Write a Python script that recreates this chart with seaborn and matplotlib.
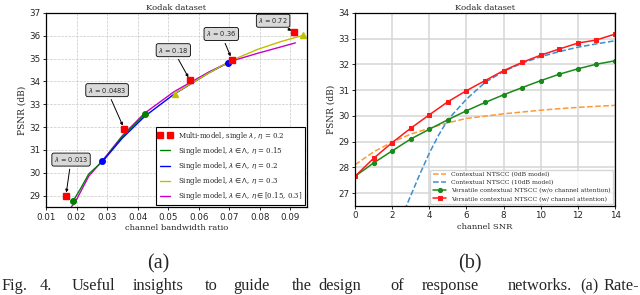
import numpy as np
import pandas as pd
import matplotlib
matplotlib.use("Agg")
import matplotlib.pyplot as plt
from matplotlib.lines import Line2D
import seaborn as sns

# ---- (a) rate-distortion data ----
multi_ratio = [0.0165, 0.0356, 0.0572, 0.0709, 0.0914]
multi_psnr = [28.99, 31.93, 34.05, 34.96, 36.15]
multi_lambda = ["0.013", "0.0483", "0.18", "0.36", "0.72"]
box_ratio = [0.0182, 0.0300, 0.0517, 0.0674, 0.0844]
box_psnr = [30.58, 33.62, 35.37, 36.08, 36.66]

eta015_ratio = [0.0188, 0.0215, 0.024, 0.0285, 0.035, 0.0424]
eta015_psnr = [28.75, 29.35, 29.95, 30.50, 31.60, 32.56]
eta02_ratio = [0.0285, 0.035, 0.0424, 0.052, 0.0634, 0.0697]
eta02_psnr = [30.50, 31.52, 32.48, 33.45, 34.38, 34.83]
eta03_ratio = [0.0521, 0.058, 0.0634, 0.0709, 0.0792, 0.087, 0.0942]
eta03_psnr = [33.47, 33.95, 34.38, 34.93, 35.40, 35.75, 36.02]
etarange_ratio = [0.0180, 0.0198, 0.024, 0.0285, 0.0351, 0.0421, 0.0519, 0.0634, 0.0709, 0.0792, 0.0917]
etarange_psnr = [28.45, 28.78, 29.85, 30.54, 31.64, 32.59, 33.55, 34.42, 34.90, 35.23, 35.69]

# ---- (b) SNR adaptation data ----
snr = list(range(15))
psnr_ca = [27.65, 28.35, 28.96, 29.52, 30.04, 30.55, 30.98, 31.37, 31.76, 32.08, 32.36, 32.60, 32.83, 32.95, 33.18]
psnr_noca = [27.65, 28.17, 28.64, 29.10, 29.48, 29.85, 30.20, 30.52, 30.82, 31.10, 31.37, 31.62, 31.83, 32.01, 32.14]
snr_0db = [0, 1, 2, 3, 4, 5, 6, 7, 8, 9, 10, 11, 12, 13, 14]
psnr_0db = [28.10, 28.60, 28.98, 29.29, 29.52, 29.73, 29.90, 29.99, 30.08, 30.15, 30.22, 30.28, 30.33, 30.37, 30.41]
snr_10db = [2.5, 3, 3.5, 4, 4.5, 5, 6, 7, 8, 9, 10, 11, 12, 13, 14]
psnr_10db = [26.05, 26.90, 27.75, 28.55, 29.25, 29.85, 30.65, 31.30, 31.73, 32.05, 32.30, 32.50, 32.67, 32.80, 32.92]

# caption words and where they start (pixels from left)
caption_words = ["Fig.", "4.", "Useful", "insights", "to", "guide", "the", "design", "of",
                 "response", "networks.", "(a)", "Rate-"]
caption_x = [1, 40, 72, 133, 205, 233, 292, 318, 390, 422, 508, 580, 604]

C_G, C_B, C_Y, C_M, C_R = "#008000", "#0000ff", "#bfbf00", "#c800c8", "#ff0000"

sns.set_theme(style="white")
plt.rcParams["font.family"] = ["DejaVu Sans"]

fig = plt.figure(figsize=(6.4, 2.95), dpi=100)
ax1 = fig.add_axes([0.0719, 0.298, 0.4078, 0.658])
ax2 = fig.add_axes([0.5547, 0.302, 0.4063, 0.654])

serif = "DejaVu Serif"

# ---------------- panel (a) ----------------
ax1.grid(True, color="#c8c8c8", linestyle="--", linewidth=0.5)
sns.lineplot(x=etarange_ratio, y=etarange_psnr, ax=ax1, color=C_M, lw=1.0, sort=False, estimator=None)
sns.lineplot(x=eta015_ratio, y=eta015_psnr, ax=ax1, color=C_G, lw=1.0, sort=False, estimator=None)
sns.lineplot(x=eta02_ratio, y=eta02_psnr, ax=ax1, color=C_B, lw=1.0, sort=False, estimator=None)
sns.lineplot(x=eta03_ratio, y=eta03_psnr, ax=ax1, color=C_Y, lw=1.0, sort=False, estimator=None)
ax1.plot([eta015_ratio[0], eta015_ratio[-1]], [eta015_psnr[0], eta015_psnr[-1]], "o", color=C_G, ms=4, ls="none")
ax1.plot([eta02_ratio[0], eta02_ratio[-1]], [eta02_psnr[0], eta02_psnr[-1]], "o", color=C_B, ms=4, ls="none")
ax1.plot([eta03_ratio[0], eta03_ratio[-1]], [eta03_psnr[0], eta03_psnr[-1]], "^", color=C_Y, ms=4.5, ls="none")
ax1.plot(multi_ratio, multi_psnr, "s", color=C_R, ms=4, ls="none", zorder=5)

for lam, xr, yp, bx, by in zip(multi_lambda, multi_ratio, multi_psnr, box_ratio, box_psnr):
    ax1.annotate(r"$\lambda$ = " + lam, xy=(xr, yp), xytext=(bx, by),
                 fontsize=4.8, ha="center", va="center",
                 bbox=dict(boxstyle="round,pad=0.3", fc="#d9d9d9", ec="black", lw=0.6),
                 arrowprops=dict(arrowstyle="-|>", color="black", lw=0.7, mutation_scale=4, shrinkB=2.5))

ax1.set_xlim(0.01, 0.0955)
ax1.set_ylim(28.5, 37)
ax1.set_xticks(np.arange(0.01, 0.0951, 0.01))
ax1.set_yticks(range(29, 38))
ax1.xaxis.set_major_formatter(matplotlib.ticker.FormatStrFormatter("%.2f"))
ax1.set_xlabel("channel bandwidth ratio", fontsize=6, family=serif, labelpad=2)
ax1.set_ylabel("PSNR (dB)", fontsize=6.5, family=serif, labelpad=2)
ax1.set_title("Kodak dataset", fontsize=6, family=serif, pad=2)

handles1 = [
    Line2D([], [], color=C_R, marker="s", ms=4, ls="none"),
    Line2D([], [], color=C_G, lw=1.0),
    Line2D([], [], color=C_B, lw=1.0),
    Line2D([], [], color=C_Y, lw=1.0),
    Line2D([], [], color=C_M, lw=1.0),
]
labels1 = [
    r"Multi-model, single $\lambda$, $\eta$ = 0.2",
    r"Single model, $\lambda\in\Lambda$, $\eta$ = 0.15",
    r"Single model, $\lambda\in\Lambda$, $\eta$ = 0.2",
    r"Single model, $\lambda\in\Lambda$, $\eta$ = 0.3",
    r"Single model, $\lambda\in\Lambda$, $\eta\in$[0.15, 0.3]",
]
leg1 = ax1.legend(handles1, labels1, loc="lower right", numpoints=2, fancybox=False,
                  prop={"family": serif, "size": 5}, handlelength=2.0, borderaxespad=0.3,
                  labelspacing=0.45, framealpha=1)
leg1.get_frame().set_edgecolor("black")
leg1.get_frame().set_linewidth(0.8)

# ---------------- panel (b) ----------------
ax2.grid(True, color="#d6d6d6", linestyle="-", linewidth=1.1)
sns.lineplot(x=snr_0db, y=psnr_0db, ax=ax2, color="#ff9933", lw=1.1, ls="--",
             label="Contextual NTSCC (0dB model)")
sns.lineplot(x=snr_10db, y=psnr_10db, ax=ax2, color="#3a8fd0", lw=1.1, ls="--",
             label="Contextual NTSCC (10dB model)")
sns.lineplot(x=snr, y=psnr_noca, ax=ax2, color="#1a8a1a", lw=1.1, marker="o", ms=3, mec="#1a8a1a",
             label="Versatile contextual NTSCC (w/o channel attention)")
sns.lineplot(x=snr, y=psnr_ca, ax=ax2, color="#ff1a1a", lw=1.1, marker="s", ms=3.5, mec="#ff1a1a",
             label="Versatile contextual NTSCC (w/ channel attention)")
ax2.set_xlim(0, 14)
ax2.set_ylim(26.5, 34)
ax2.set_xticks(range(0, 15, 2))
ax2.set_yticks(range(27, 35))
ax2.set_xlabel("channel SNR", fontsize=6, family=serif, labelpad=2)
ax2.set_ylabel("PSNR (dB)", fontsize=6.5, family=serif, labelpad=2)
ax2.set_title("Kodak dataset", fontsize=6, family=serif, pad=2)
ax2.legend(loc="lower right", prop={"family": serif, "size": 4.4}, handlelength=2.2,
           borderaxespad=0.3, labelspacing=0.45)

for ax in (ax1, ax2):
    ax.tick_params(axis="both", labelsize=6.3, length=2.5, width=0.7, pad=1.5, direction="out",
                   bottom=True, left=True)
    for sp in ax.spines.values():
        sp.set_color("black")
        sp.set_linewidth(0.9)

W, H = 640.0, 295.0
fig.text(158 / W, 1 - 264 / H, "(a)", fontsize=14.5, family="Liberation Serif", ha="center", va="center")
fig.text(470 / W, 1 - 264 / H, "(b)", fontsize=14.5, family="Liberation Serif", ha="center", va="center")
for word, px in zip(caption_words, caption_x):
    fig.text(px / W, 5 / H, word, fontsize=11.8, family="Liberation Serif", ha="left", va="baseline")

fig.savefig("out.png", dpi=100)
